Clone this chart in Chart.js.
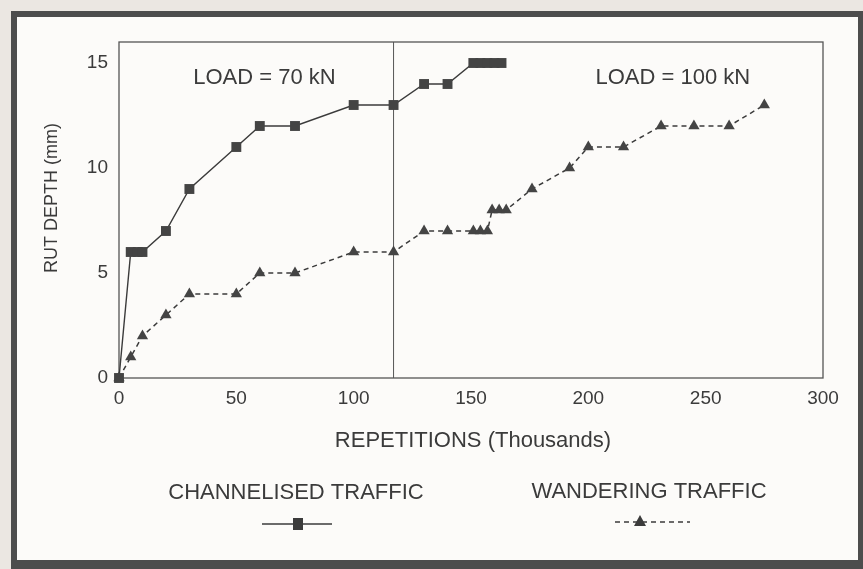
<!DOCTYPE html>
<html>
<head>
<meta charset="utf-8">
<script src="https://cdn.jsdelivr.net/npm/chart.js@4/dist/chart.umd.min.js"></script>
<style>
  html, body { margin: 0; padding: 0; }
  body { width: 863px; height: 569px; background: #ebe7e2; position: relative; overflow: hidden; }
  #frame {
    position: absolute; left: 11px; top: 11px; width: 852px; height: 558px;
    box-sizing: border-box; border-style: solid; border-color: #4d4d4d;
    border-width: 6px 5px 9px 6px; background: #fcfbf9;
  }
  #rut-chart { position: absolute; left: 0; top: 0; }
</style>
</head>
<body>
<div id="frame"></div>
<canvas id="rut-chart" width="863" height="569"></canvas>
<script>
// repetitions (thousands) and rut depth (mm)
const channelisedReps = [0, 5, 8, 10, 20, 30, 50, 60, 75, 100, 117, 130, 140, 151, 154, 157, 160, 163];
const channelisedDepth = [0, 6, 6, 6, 7, 9, 11, 12, 12, 13, 13, 14, 14, 15, 15, 15, 15, 15];

const wanderingReps = [0, 5, 10, 20, 30, 50, 60, 75, 100, 117, 130, 140, 151, 154, 157, 159, 162, 165, 176, 192, 200, 215, 231, 245, 260, 275];
const wanderingDepth = [0, 1, 2, 3, 4, 4, 5, 5, 6, 6, 7, 7, 7, 7, 7, 8, 8, 8, 9, 10, 11, 11, 12, 12, 12, 13];

const xTicks = [0, 50, 100, 150, 200, 250, 300];
const yTicks = [0, 5, 10, 15];

const loadChangeAt = 117;
const loadLabels = [
  { text: "LOAD = 70 kN", x: 62, y: 14.3 },
  { text: "LOAD = 100 kN", x: 236, y: 14.3 },
];

const seriesNames = ["CHANNELISED TRAFFIC", "WANDERING TRAFFIC"];

const FAMILY = "'Liberation Sans', Arial, sans-serif";
const INK = "#3b3b3b";

function toPoints(xs, ys) {
  return xs.map((x, i) => ({ x: x, y: ys[i] }));
}

const extrasPlugin = {
  id: "extras",
  beforeDatasetsDraw(chart) {
    const { ctx, chartArea, scales } = chart;
    ctx.save();
    ctx.strokeStyle = "#555";
    ctx.lineWidth = 1.3;
    ctx.strokeRect(chartArea.left, chartArea.top, chartArea.right - chartArea.left, chartArea.bottom - chartArea.top);
    const lx = scales.x.getPixelForValue(loadChangeAt);
    ctx.lineWidth = 1;
    ctx.beginPath();
    ctx.moveTo(lx, chartArea.top);
    ctx.lineTo(lx, chartArea.bottom);
    ctx.stroke();
    ctx.restore();
  },
  afterDraw(chart) {
    const { ctx, scales } = chart;
    ctx.save();
    ctx.fillStyle = INK;
    ctx.textAlign = "center";
    ctx.textBaseline = "middle";

    ctx.font = "22px " + FAMILY;
    loadLabels.forEach((l) => {
      ctx.fillText(l.text, scales.x.getPixelForValue(l.x), scales.y.getPixelForValue(l.y));
    });

    // axis titles
    ctx.fillText("REPETITIONS (Thousands)", 473, 441);
    ctx.save();
    ctx.font = "18px " + FAMILY;
    ctx.translate(52, 198);
    ctx.rotate(-Math.PI / 2);
    ctx.fillText("RUT DEPTH (mm)", 0, 0);
    ctx.restore();

    // legend: name above a sample of the line
    ctx.fillText(seriesNames[0], 296, 493);
    ctx.fillText(seriesNames[1], 649, 492);

    ctx.strokeStyle = INK;
    ctx.lineWidth = 1.5;
    ctx.beginPath();
    ctx.moveTo(262, 524);
    ctx.lineTo(332, 524);
    ctx.stroke();
    ctx.fillRect(293, 518, 10, 12);

    ctx.setLineDash([5, 4]);
    ctx.beginPath();
    ctx.moveTo(615, 522);
    ctx.lineTo(690, 522);
    ctx.stroke();
    ctx.setLineDash([]);
    ctx.beginPath();
    ctx.moveTo(640, 515);
    ctx.lineTo(646, 526);
    ctx.lineTo(634, 526);
    ctx.closePath();
    ctx.fill();
    ctx.restore();
  },
};

const ctx = document.getElementById("rut-chart").getContext("2d");

new Chart(ctx, {
  type: "line",
  data: {
    datasets: [
      {
        label: seriesNames[0],
        data: toPoints(channelisedReps, channelisedDepth),
        borderColor: INK,
        backgroundColor: "#444",
        borderWidth: 1.4,
        pointStyle: "rect",
        pointRadius: 7,
        pointBorderWidth: 0,
        tension: 0,
        clip: false,
      },
      {
        label: seriesNames[1],
        data: toPoints(wanderingReps, wanderingDepth),
        borderColor: INK,
        backgroundColor: "#444",
        borderWidth: 1.5,
        borderDash: [5, 4],
        pointStyle: "triangle",
        pointRadius: 6.5,
        pointBorderWidth: 0,
        tension: 0,
        clip: false,
      },
    ],
  },
  options: {
    responsive: false,
    animation: false,
    layout: { padding: { top: 42, right: 40, left: 0, bottom: 0 } },
    plugins: { legend: { display: false }, tooltip: { enabled: false } },
    scales: {
      x: {
        type: "linear",
        min: 0,
        max: 300,
        grid: { display: false, drawTicks: false },
        border: { display: false },
        afterBuildTicks: (scale) => { scale.ticks = xTicks.map((v) => ({ value: v })); },
        afterFit: (scale) => { scale.height = 191; },
        ticks: { color: INK, font: { family: FAMILY, size: 19 }, padding: 9, maxRotation: 0 },
      },
      y: {
        type: "linear",
        min: 0,
        max: 16,
        grid: { display: false, drawTicks: false },
        border: { display: false },
        afterBuildTicks: (scale) => { scale.ticks = yTicks.map((v) => ({ value: v })); },
        afterFit: (scale) => { scale.width = 119; },
        ticks: { color: INK, font: { family: FAMILY, size: 19 }, padding: 11 },
      },
    },
  },
  plugins: [extrasPlugin],
});
</script>
</body>
</html>
